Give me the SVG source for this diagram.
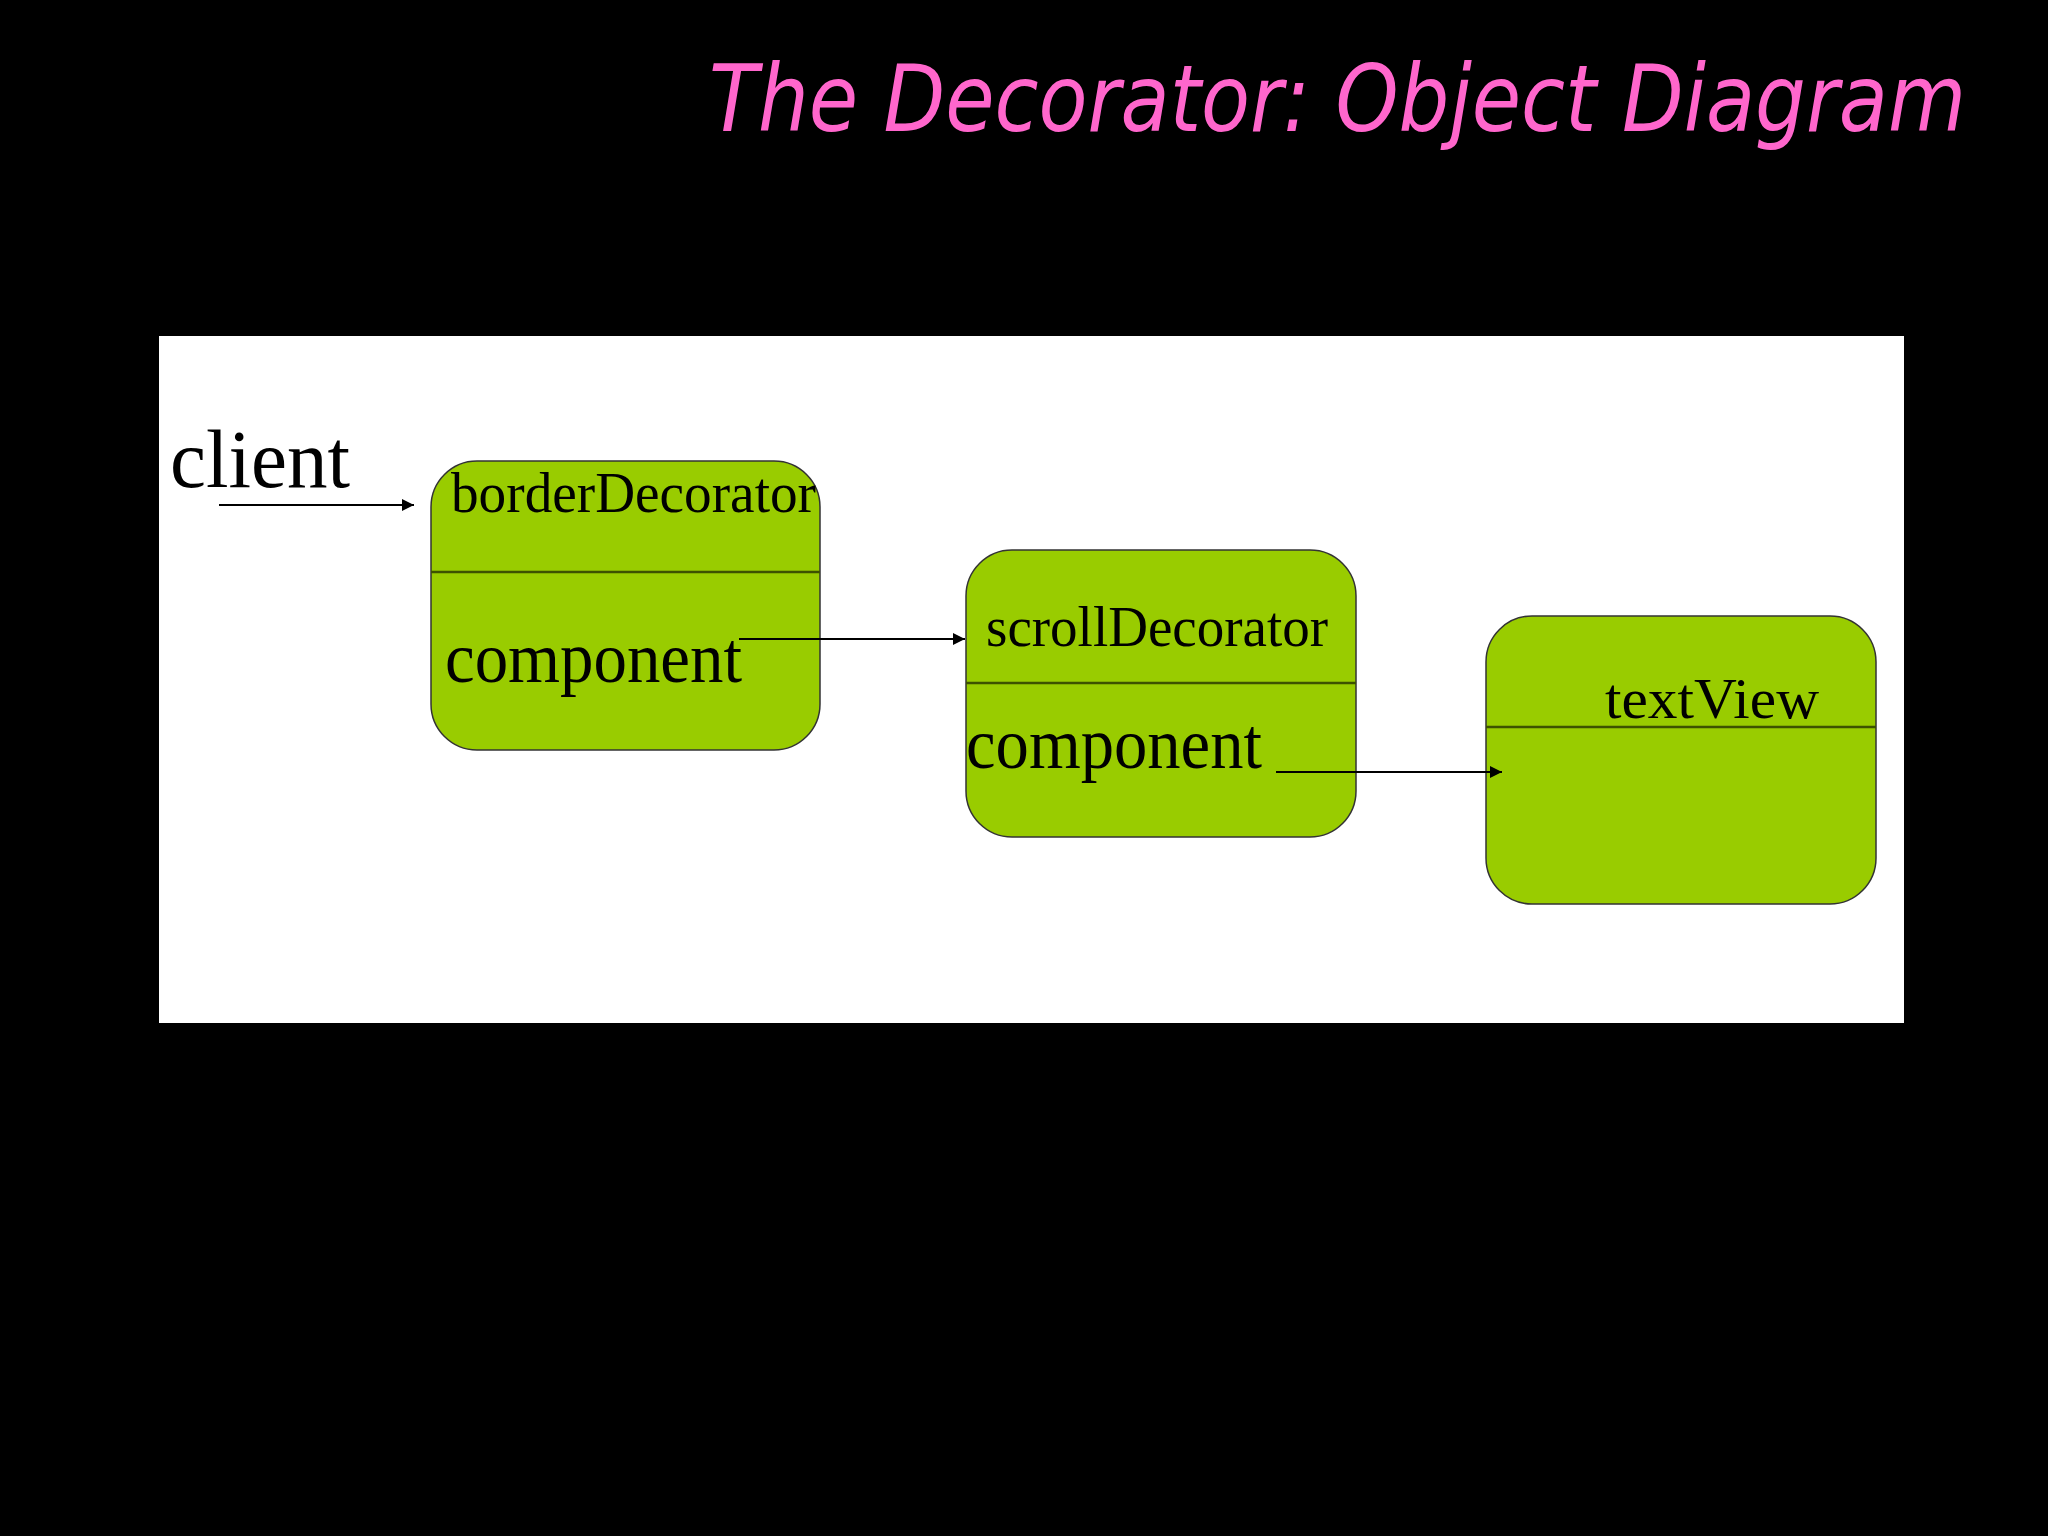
<svg xmlns="http://www.w3.org/2000/svg" width="2048" height="1536" viewBox="0 0 2048 1536">
<defs>
<style>
.box{fill:#99cc00;stroke:#333;stroke-width:1.5}
.div{stroke:#3d5200;stroke-width:2.5}
.t{font-family:"Liberation Serif","DejaVu Serif",serif;fill:#000}
.c{stroke:#000;stroke-width:2;fill:none;marker-end:url(#ah)}
</style>
<marker id="ah" viewBox="0 0 10 10" refX="10" refY="5" markerWidth="6" markerHeight="6" orient="auto" markerUnits="strokeWidth"><path d="M0,0L10,5L0,10z" fill="#000"/></marker>
</defs>
<rect width="2048" height="1536" fill="#000"/>
<text x="709" y="131" font-family="Verdana,'DejaVu Sans',sans-serif" font-style="italic" font-size="92" fill="#ff66cc" textLength="1257" lengthAdjust="spacingAndGlyphs">The Decorator: Object Diagram</text>
<rect x="159" y="336" width="1745" height="687" fill="#fff"/>
<text class="t" x="170" y="487" font-size="82" textLength="180" lengthAdjust="spacingAndGlyphs">client</text>
<g id="borderDecorator">
<rect class="box" x="431" y="461" width="389" height="289" rx="46"/>
<line class="div" x1="431" y1="572" x2="820" y2="572"/>
<text class="t" x="451" y="512" font-size="56" textLength="365" lengthAdjust="spacingAndGlyphs">borderDecorator</text>
<text class="t" x="445" y="682" font-size="72" textLength="297" lengthAdjust="spacingAndGlyphs">component</text>
</g>
<g id="scrollDecorator">
<rect class="box" x="966" y="550" width="390" height="287" rx="46"/>
<line class="div" x1="966" y1="683" x2="1356" y2="683"/>
<text class="t" x="986" y="646" font-size="56" textLength="342" lengthAdjust="spacingAndGlyphs">scrollDecorator</text>
<text class="t" x="966" y="768" font-size="72" textLength="296" lengthAdjust="spacingAndGlyphs">component</text>
</g>
<g id="textView">
<rect class="box" x="1486" y="616" width="390" height="288" rx="46"/>
<line class="div" x1="1486" y1="727" x2="1876" y2="727"/>
<text class="t" x="1605" y="718" font-size="58" textLength="214" lengthAdjust="spacingAndGlyphs">textView</text>
</g>
<g id="connectors">
<line class="c" x1="219" y1="505" x2="414" y2="505"/>
<line class="c" x1="739" y1="639" x2="965" y2="639"/>
<line class="c" x1="1276" y1="772" x2="1502" y2="772"/>
</g>
</svg>
